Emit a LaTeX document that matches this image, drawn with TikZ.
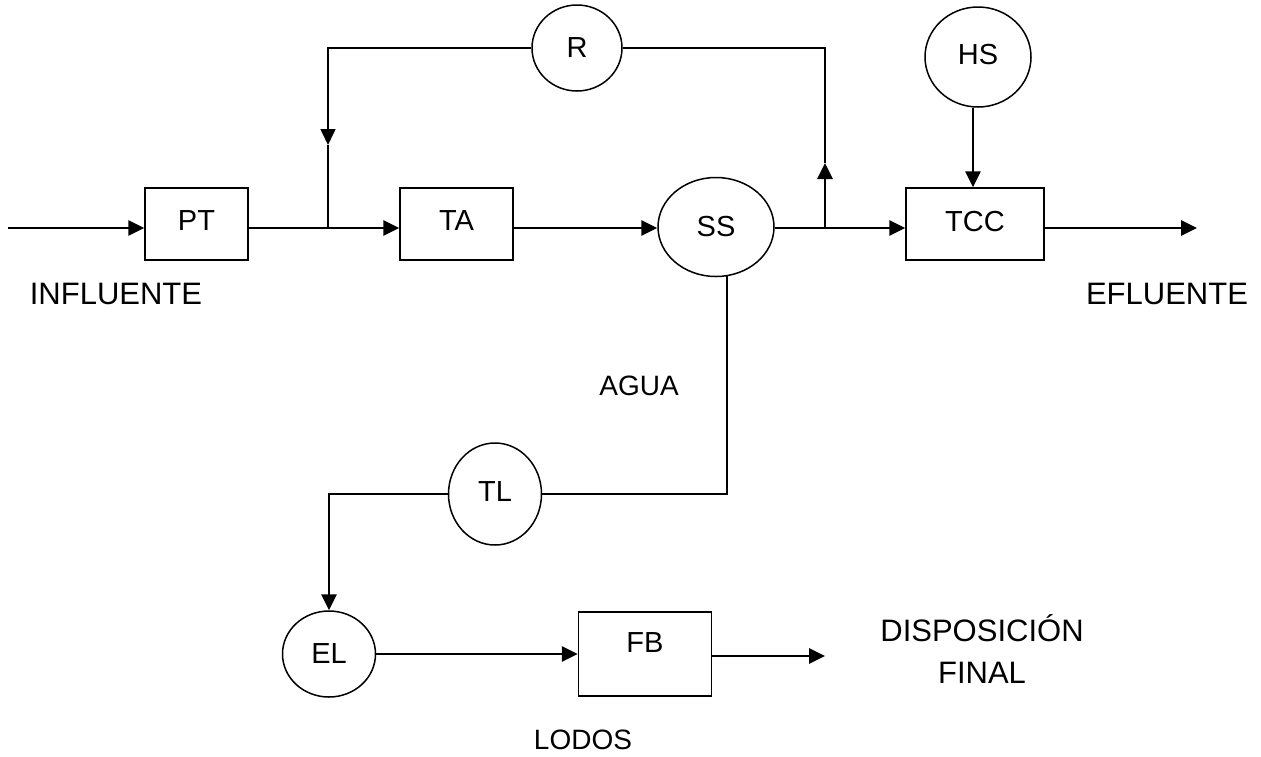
\documentclass[tikz,border=0pt]{standalone}
\usepackage{fontspec}
\setmainfont{Liberation Sans}
\usetikzlibrary{arrows.meta,shapes.geometric}
\begin{document}
\begin{tikzpicture}[x=1pt,y=-1pt,
  lbl/.style={font=\fontsize{29}{32}\selectfont},
  small/.style={font=\fontsize{28}{32}\selectfont},
  box/.style={draw,line width=1.5pt,rectangle,inner sep=0pt,lbl},
  circ/.style={draw,line width=1.5pt,ellipse,inner sep=0pt,lbl},
  big/.style={font=\fontsize{31}{42}\selectfont,align=center},
  tip/.style={-{Triangle[length=16pt,width=15pt]}},
  flow/.style={line width=2.7pt},
  thin/.style={line width=1.6pt}]
\useasboundingbox (0,0) rectangle (1261,756);
% nodes
\node[box,minimum width=103pt,minimum height=72pt] (PT) at (196.5,224) {\raisebox{6pt}{PT}};
\node[box,minimum width=113pt,minimum height=72pt] (TA) at (456.5,224) {\raisebox{6pt}{TA}};
\node[circ,minimum width=116pt,minimum height=99pt] (SS) at (716,227) {SS};
\node[box,minimum width=138pt,minimum height=72pt] (TCC) at (975,224) {\raisebox{6pt}{TCC}};
\node[circ,minimum width=90pt,minimum height=86pt] (R) at (577,48) {R};
\node[circ,minimum width=106pt,minimum height=100pt] (HS) at (978,57) {\raisebox{6pt}{HS}};
\node[circ,minimum width=93pt,minimum height=102pt] (TL) at (495,494) {\raisebox{4pt}{TL}};
\node[circ,minimum width=93pt,minimum height=86pt] (EL) at (329,654) {EL};
\node[box,minimum width=133pt,minimum height=84pt] (FB) at (645,654) {\raisebox{22pt}{FB}};
% text labels
\node[big] (inf) at (116,294) {INFLUENTE};
\node[big] (efl) at (1167,294) {EFLUENTE};
\node[big] (disp) at (982,649) {DISPOSICIÓN\\FINAL};
\node[small] (agua) at (639,386) {AGUA};
\node[small] (lodos) at (583,740) {LODOS};
% coordinates
\coordinate (in) at (8,228);
\coordinate (j1) at (328,228);
\coordinate (j2) at (825,228);
\coordinate (ra) at (328,145);
\coordinate (rb) at (825,163);
\coordinate (out) at (1197,228);
\coordinate (sd) at (727,276);
\coordinate (fout) at (825,656);
% main flow
\draw[flow,tip] (in) -- (PT.west |- in);
\draw[flow] (PT.east |- j1) -- (j1);
\draw[flow,tip] (j1) -- (TA.west |- j1);
\draw[flow,tip] (TA.east |- j1) -- (SS.west |- j1);
\draw[flow] (SS.east |- j2) -- (j2);
\draw[flow,tip] (j2) -- (TCC.west |- j2);
\draw[flow,tip] (TCC.east |- out) -- (out);
% recycle
\draw[thin,tip] (R.west) -| (ra);
\draw[thin] (ra) -- (j1);
\draw[flow,tip] (j2) -- (rb);
\draw[thin] (rb) |- (R.east);
% HS
\draw[flow,tip] (HS.south -| 973,0) -- (TCC.north -| 973,0);
% sludge line
\draw[thin] (sd) |- (TL.east);
\draw[flow,tip] (TL.west) -| (EL.north);
\draw[flow,tip] (EL.east) -- (FB.west |- EL.east);
\draw[flow,tip] (FB.east |- fout) -- (fout);
\end{tikzpicture}
\end{document}
